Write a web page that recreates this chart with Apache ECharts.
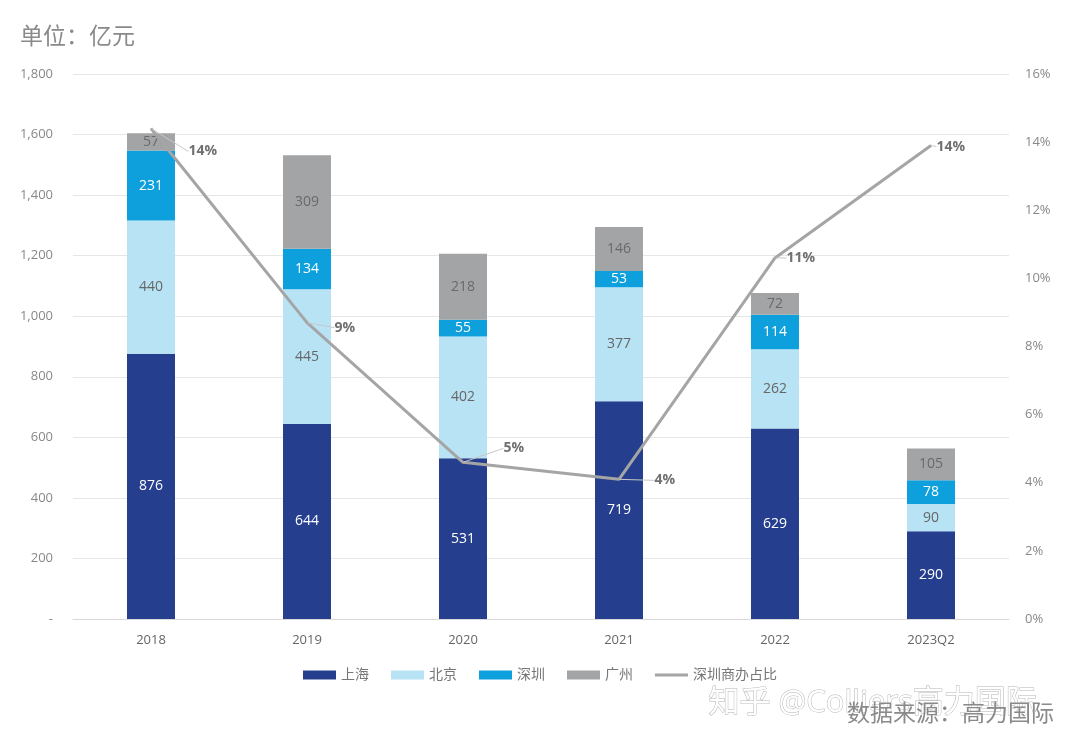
<!DOCTYPE html>
<html lang="zh">
<head>
    <meta charset="utf-8">
    <title>深圳商办成交</title>
    <script src="https://cdn.jsdelivr.net/npm/echarts@6/dist/echarts.min.js"></script>
    <style>
        html, body { margin: 0; padding: 0; background: #fff; }
        #chart { width: 1080px; height: 745px; }
    </style>
</head>
<body>
<div id="chart"></div>
<script>
    // 数据
    var years = ['2018', '2019', '2020', '2021', '2022', '2023Q2'];
    var shanghai = [876, 644, 531, 719, 629, 290];
    var beijing = [440, 445, 402, 377, 262, 90];
    var shenzhen = [231, 134, 55, 53, 114, 78];
    var guangzhou = [57, 309, 218, 146, 72, 105];
    var szShare = [14.4, 8.7, 4.6, 4.1, 10.6, 13.9];
    var shareLabels = ['14%', '9%', '5%', '4%', '11%', '14%'];

    // 标签偏移
    var labelShift = [[32, 23], [22, 5], [35, -14], [30, 1], [6, 0], [0, 1]];

    var font = '"Open Sans", "Noto Sans CJK SC", sans-serif';

    function barSeries(name, data, color, textColor) {
        return {
            name: name,
            type: 'bar',
            stack: 'total',
            data: data,
            barWidth: 48,
            itemStyle: { color: color },
            label: {
                show: true,
                position: 'inside',
                color: textColor,
                fontSize: 14,
                fontFamily: font
            }
        };
    }

    var chart = echarts.init(document.getElementById('chart'));
    chart.setOption({
        animation: false,
        textStyle: { fontFamily: font },
        title: {
            text: '单位：亿元',
            left: 15,
            top: 21,
            textStyle: { fontSize: 23, fontWeight: 'normal', color: '#8a8a8a', fontFamily: font }
        },
        legend: {
            bottom: 58,
            left: 'center',
            itemWidth: 33,
            itemHeight: 9,
            itemGap: 22,
            textStyle: { fontSize: 14, color: '#777' },
            data: [
                { name: '上海', icon: 'rect' },
                { name: '北京', icon: 'rect' },
                { name: '深圳', icon: 'rect' },
                { name: '广州', icon: 'rect' },
                { name: '深圳商办占比', icon: 'path://M0,0h33v3h-33z' }
            ]
        },
        grid: { left: 73, right: 71, top: 74, bottom: 126 },
        xAxis: {
            type: 'category',
            data: years,
            axisLine: { lineStyle: { color: '#d9d9d9' } },
            axisTick: { show: false },
            axisLabel: { color: '#666', fontSize: 13, margin: 15 }
        },
        yAxis: [
            {
                type: 'value',
                min: 0,
                max: 1800,
                interval: 200,
                axisLine: { show: false },
                axisTick: { show: false },
                splitLine: { lineStyle: { color: '#e6e6e6' } },
                axisLabel: {
                    color: '#888',
                    fontSize: 13,
                    margin: 20,
                    formatter: function (v) {
                        return v === 0 ? '-' : v.toLocaleString('en-US');
                    }
                }
            },
            {
                type: 'value',
                min: 0,
                max: 16,
                interval: 2,
                axisLine: { show: false },
                axisTick: { show: false },
                splitLine: { show: false },
                axisLabel: { color: '#888', fontSize: 13, margin: 16, formatter: '{value}%' }
            }
        ],
        series: [
            barSeries('上海', shanghai, '#253f8e', '#fff'),
            barSeries('北京', beijing, '#b7e3f5', '#666'),
            barSeries('深圳', shenzhen, '#0ea0dc', '#fff'),
            barSeries('广州', guangzhou, '#a2a4a6', '#6a6a6a'),
            {
                name: '深圳商办占比',
                type: 'line',
                yAxisIndex: 1,
                data: szShare,
                symbol: 'circle',
                symbolSize: 1,
                showSymbol: true,
                z: 5,
                lineStyle: { width: 3, color: '#a5a5a5' },
                itemStyle: { color: '#a5a5a5' },
                label: {
                    show: true,
                    position: 'right',
                    distance: 5,
                    fontSize: 14,
                    fontWeight: 'bold',
                    color: '#707070',
                    formatter: function (p) { return shareLabels[p.dataIndex]; }
                },
                labelLine: { show: true, lineStyle: { color: '#c8c8c8', width: 1 } },
                labelLayout: function (p) {
                    var s = labelShift[p.dataIndex];
                    return { dx: s[0], dy: s[1] };
                }
            }
        ],
        graphic: [
            {
                type: 'text',
                left: 708,
                top: 687,
                style: {
                    text: '知乎 @Colliers高力国际',
                    fontSize: 31,
                    fontFamily: font,
                    fill: '#fff',
                    stroke: '#b5b5b5',
                    lineWidth: 1
                },
                z: 10
            },
            {
                type: 'text',
                left: 847,
                top: 703,
                style: {
                    text: '数据来源：高力国际',
                    fontSize: 23,
                    fontFamily: font,
                    fill: '#8a8a8a'
                },
                z: 11
            }
        ]
    });
</script>
</body>
</html>
